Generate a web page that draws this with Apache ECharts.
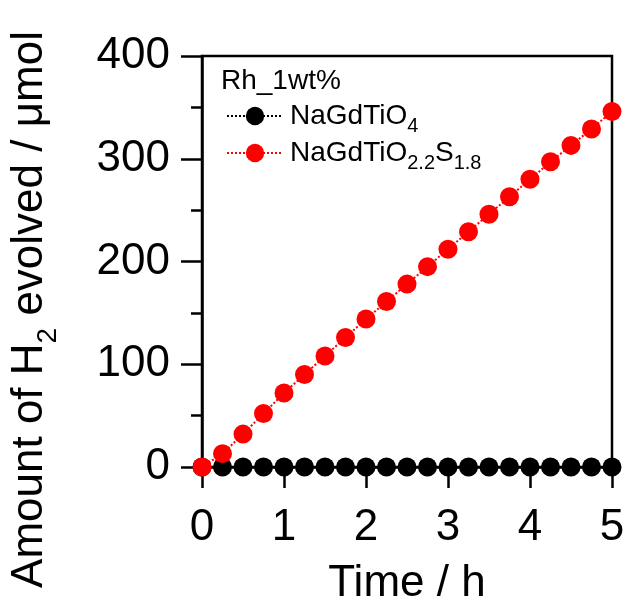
<!DOCTYPE html>
<html>
<head>
<meta charset="utf-8">
<script src="https://cdn.jsdelivr.net/npm/echarts@6/dist/echarts.min.js"></script>
<style>
html,body{margin:0;padding:0;background:#fff;}
#chart{width:627px;height:604px;}
</style>
</head>
<body>
<div id="chart"></div>
<script>
var timeH = [0,0.25,0.5,0.75,1,1.25,1.5,1.75,2,2.25,2.5,2.75,3,3.25,3.5,3.75,4,4.25,4.5,4.75,5];
var oxideH2 = [0,0,0,0,0,0,0,0,0,0,0,0,0,0,0,0,0,0,0,0,0];
var oxysulfideH2 = [0,13,32,52,72,90,108,126,144,161,178,195,212,229,246,263,280,297,313,329,346];
var seriesNames = ['NaGdTiO4','NaGdTiO2.2S1.8'];
var legendRich = {
	'NaGdTiO4':'{b|NaGdTiO}{s|4}',
	'NaGdTiO2.2S1.8':'{b|NaGdTiO}{s|2.2}{b|S}{s|1.8}'
};

function pairs(xs, ys){
	var out = [];
	for(var i=0;i<xs.length;i++){ out.push([xs[i], ys[i]]); }
	return out;
}

var font = 'Liberation Sans, Arial, sans-serif';
var myChart = echarts.init(document.getElementById('chart'));

var option = {
	backgroundColor:'#fff',
	animation:false,
	title:{
		text:'Rh_1wt%',
		left:216,
		top:62,
		textStyle:{ fontFamily:font, fontSize:28, fontWeight:'normal', color:'#000' }
	},
	legend:{
		orient:'vertical',
		left:221,
		top:97,
		itemWidth:56,
		itemHeight:23,
		itemGap:3,
		data:seriesNames,
		formatter:function(name){ return legendRich[name]; },
		textStyle:{
			fontFamily:font, color:'#000', padding:[0,0,0,2],
			rich:{
				b:{ fontFamily:font, fontSize:28, color:'#000', lineHeight:24 },
				s:{ fontFamily:font, fontSize:20, color:'#000', lineHeight:14, verticalAlign:'bottom', padding:[0,0,-8,0] }
			}
		}
	},
	grid:{
		left:202, right:15, top:56, bottom:137,
		outerBoundsMode:'none',
		containLabel:false,
		show:true, borderColor:'#000', borderWidth:2.5, backgroundColor:'transparent'
	},
	xAxis:{
		type:'value',
		min:0, max:5, interval:1,
		name:'Time / h',
		nameLocation:'middle',
		nameGap:95,
		nameTextStyle:{ fontFamily:font, fontSize:44, color:'#000' },
		axisLine:{ onZero:false, lineStyle:{ color:'#000', width:2.5 } },
		axisTick:{ show:true, inside:false, length:21, lineStyle:{ color:'#000', width:2.5 } },
		axisLabel:{ fontFamily:font, fontSize:44, color:'#000', margin:39 },
		splitLine:{ show:false }
	},
	yAxis:{
		type:'value',
		min:0, max:400, interval:100,
		name:'Amount of H{s|2} evolved / μmol',
		nameLocation:'middle',
		nameGap:150,
		nameRotate:90,
		nameTextStyle:{
			fontFamily:font, fontSize:44, color:'#000', padding:[0,96,0,0],
			rich:{
				s:{ fontFamily:font, fontSize:28, color:'#000', verticalAlign:'bottom', padding:[0,0,-10,0] }
			}
		},
		axisLine:{ lineStyle:{ color:'#000', width:2.5 } },
		axisTick:{ show:true, inside:false, length:21, lineStyle:{ color:'#000', width:2.5 } },
		minorTick:{ show:true, splitNumber:2, length:11, lineStyle:{ color:'#000', width:2.5 } },
		axisLabel:{ fontFamily:font, fontSize:44, color:'#000', margin:32 },
		splitLine:{ show:false }
	},
	series:[
		{
			name:seriesNames[0],
			type:'line',
			data:pairs(timeH, oxideH2),
			symbol:'circle',
			symbolSize:19,
			clip:false,
			itemStyle:{ color:'#000' },
			lineStyle:{ color:'#000', width:2, type:'dotted' },
			z:2
		},
		{
			name:seriesNames[1],
			type:'line',
			data:pairs(timeH, oxysulfideH2),
			symbol:'circle',
			symbolSize:19,
			clip:false,
			itemStyle:{ color:'#ff0000' },
			lineStyle:{ color:'#ff0000', width:2, type:'dotted' },
			z:3
		}
	]
};
myChart.setOption(option);
</script>
</body>
</html>
